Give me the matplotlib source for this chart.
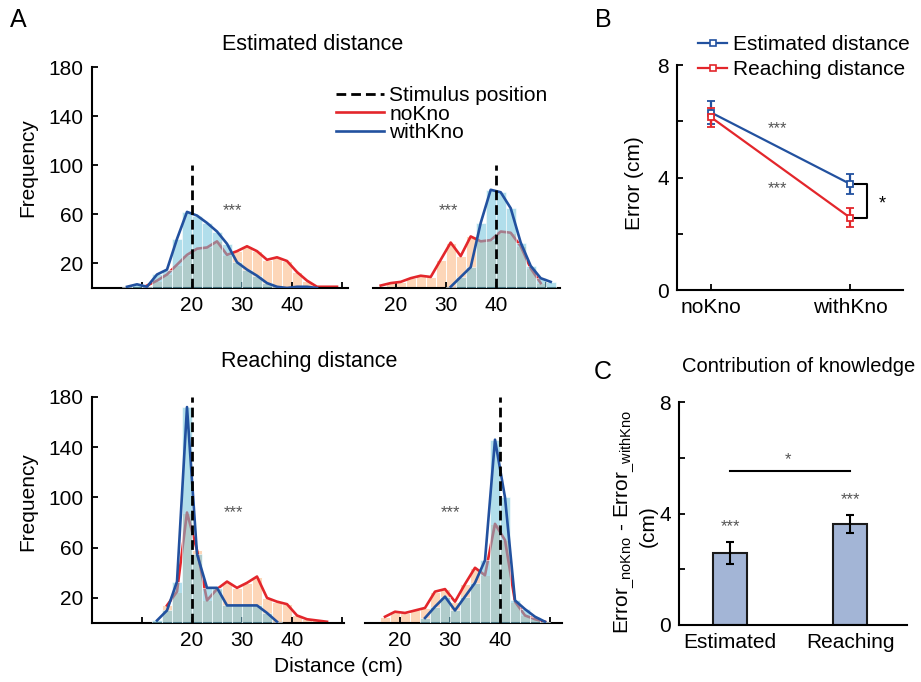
import numpy as np
import matplotlib
matplotlib.use("Agg")
import matplotlib.pyplot as plt
from matplotlib.lines import Line2D

plt.rcParams["font.family"] = ["Liberation Sans", "DejaVu Sans"]
plt.rcParams["mathtext.fontset"] = "custom"
plt.rcParams["mathtext.rm"] = "Liberation Sans"

# ---- panel A: frequency of responses per 2-cm bin (bin centres in cm)
est20_x = [7, 9, 11, 13, 15, 17, 19, 21, 23, 25, 27, 29, 31, 33, 35, 37, 39, 41, 43, 45, 47, 49]
est20_with = [1, 3, 1, 11, 15, 40, 62, 59, 53, 46, 36, 21, 15, 10, 4, 1, 0, 1, 1, 0, np.nan, np.nan]
est20_no = [np.nan, np.nan, 2, 6, 11, 19, 27, 32, 33, 38, 27, 30, 34, 30, 23, 25, 22, 13, 6, 1, 1, 1]

est40_x = [17, 19, 21, 23, 25, 27, 29, 31, 33, 35, 37, 39, 41, 43, 45, 47, 49, 51]
est40_no = [2, 4, 5, 8, 10, 9, 23, 37, 26, 42, 38, 39, 46, 45, 34, 16, 4, np.nan]
est40_with = [np.nan] * 7 + [1, 9, 17, 53, 80, 78, 65, 37, 18, 8, 5]

rea20_x = [13, 15, 17, 19, 21, 23, 25, 27, 29, 31, 33, 35, 37, 39, 41, 43, 45, 47]
rea20_with = [2, 10, 33, 172, 55, 28, 28, 14, 14, 14, 14, 8, 1] + [np.nan] * 5
rea20_no = [np.nan, 14, 25, 88, 58, 18, 27, 33, 28, 32, 37, 20, 17, 15, 6, 3, 2, 1]

rea40_x = [17, 19, 21, 23, 25, 27, 29, 31, 33, 35, 37, 39, 41, 43, 45, 47, 49]
rea40_no = [5, 9, 8, 10, 12, 25, 27, 17, 31, 44, 38, 79, 66, 17, 6, 3, 1]
rea40_with = [np.nan] * 4 + [4, 13, 21, 10, 21, 32, 50, 146, 100, 18, 11, 5, 1]

# ---- panel B: mean error (cm) with s.e.m.
conditions = ["noKno", "withKno"]
est_error = [6.31, 3.77]
est_sem = [0.40, 0.36]
reach_error = [6.14, 2.57]
reach_sem = [0.33, 0.34]

# ---- panel C: contribution of knowledge
contrib_labels = ["Estimated", "Reaching"]
contrib = [2.58, 3.62]
contrib_sem = [0.40, 0.32]

RED = "#e3262b"
BLUE = "#22519f"
ORANGE_FILL = "#fdd6b8"
BLUE_FILL = "#72c4dc"

W, H = 921, 682
fig = plt.figure(figsize=(W / 100, H / 100), dpi=100)


def box(l, t, r, b):
    return [l / W, 1 - b / H, (r - l) / W, (b - t) / H]


def ftext(x, y, s, **kw):
    fig.text(x / W, 1 - y / H, s, **kw)


def hist_panel(ax, x, no, wk, stim, xlim, vtop, left, star):
    x = np.asarray(x, float)
    no = np.asarray(no, float)
    wk = np.asarray(wk, float)
    ax.bar(x, no, width=2, color=ORANGE_FILL, edgecolor="white", linewidth=0.7, zorder=1)
    ax.plot(x, no, color=RED, lw=1.9, zorder=2)
    ax.bar(x, wk, width=2, color=BLUE_FILL, alpha=0.55, edgecolor="white",
           linewidth=0.7, zorder=3)
    ax.plot(x, wk, color=BLUE, lw=1.9, zorder=4)
    ax.vlines(stim, 0, vtop, colors="black", linestyles=(0, (3.5, 1.8)), lw=2, zorder=5)
    ax.text(star[0], star[1], "***", color="#555555", fontsize=12, ha="center", va="center")
    ax.set_xlim(*xlim)
    ax.set_ylim(0, 180)
    for s in ["top", "right"]:
        ax.spines[s].set_visible(False)
    ax.spines["bottom"].set_linewidth(1.5)
    ax.spines["left"].set_linewidth(1.5)
    ax.tick_params(direction="in", length=4, width=1.3, labelsize=15, pad=6)
    if left:
        ax.set_xticks([10, 20, 30, 40, 50], ["", "20", "30", "40", ""])
        ax.set_yticks([20, 60, 100, 140, 180])
    else:
        ax.set_xticks([20, 30, 40, 50], ["20", "30", "40", ""])
        ax.spines["left"].set_visible(False)
        ax.set_yticks([])


ax_tl = fig.add_axes(box(92, 67, 348, 288))
ax_tr = fig.add_axes(box(373, 67, 560, 288))
ax_bl = fig.add_axes(box(92, 397, 344, 623))
ax_br = fig.add_axes(box(365, 397, 562, 623))

hist_panel(ax_tl, est20_x, est20_no, est20_with, 20, (0, 51.2), 100, True, (28, 63))
hist_panel(ax_tr, est40_x, est40_no, est40_with, 40, (15.46, 52.86), 100, False, (30.5, 63))
hist_panel(ax_bl, rea20_x, rea20_no, rea20_with, 20, (0, 50.4), 180, True, (28.2, 88))
hist_panel(ax_br, rea40_x, rea40_no, rea40_with, 40, (13, 52.4), 180, False, (30, 88))

handles = [
    Line2D([], [], color="black", lw=2, linestyle=(0, (3.5, 1.8))),
    Line2D([], [], color=RED, lw=1.9),
    Line2D([], [], color=BLUE, lw=1.9),
]
fig.legend(handles, ["Stimulus position", "noKno", "withKno"], loc="upper left",
           bbox_to_anchor=(336 / W, 1 - 86 / H), frameon=False, fontsize=15,
           handlelength=2.3, handletextpad=0.25, labelspacing=-0.02,
           borderpad=0, borderaxespad=0)

ftext(313, 45, "Estimated distance", fontsize=15.5, ha="center", va="center")
ftext(309, 362, "Reaching distance", fontsize=15.5, ha="center", va="center")
ftext(28, 168, "Frequency", fontsize=15, rotation=90, ha="center", va="center")
ftext(28, 502, "Frequency", fontsize=15, rotation=90, ha="center", va="center")
ftext(338, 667, "Distance (cm)", fontsize=15, ha="center", va="center")

# ---- panel B
axB = fig.add_axes(box(677, 65, 903, 290))
xb = np.arange(1, len(conditions) + 1)
axB.errorbar(xb, est_error, yerr=est_sem, color=BLUE, lw=1.6, marker="s", ms=5,
             mfc="white", mec=BLUE, mew=1.3, capsize=3, elinewidth=1.6, zorder=3)
axB.errorbar(xb, reach_error, yerr=reach_sem, color=RED, lw=1.6, marker="s", ms=5,
             mfc="white", mec=RED, mew=1.3, capsize=3, elinewidth=1.6, zorder=3)
axB.set_xlim(0.755, 2.38)
axB.set_ylim(0, 8)
axB.set_xticks(xb, conditions)
axB.set_yticks([0, 4, 8])
axB.set_yticks([2, 6], minor=True)
for s in ["top", "right"]:
    axB.spines[s].set_visible(False)
for s in ["bottom", "left"]:
    axB.spines[s].set_linewidth(1.5)
axB.tick_params(which="both", direction="in", length=4, width=1.3, labelsize=15, pad=6)
axB.text(1.48, 5.75, "***", color="#555555", fontsize=12, ha="center", va="center")
axB.text(1.48, 3.6, "***", color="#555555", fontsize=12, ha="center", va="center")
axB.plot([2.036, 2.12, 2.12, 2.036], [est_error[1], est_error[1], reach_error[1], reach_error[1]],
         color="black", lw=1.5)
axB.text(2.23, 3.05, "*", fontsize=13, ha="center", va="center")
b_handles = [
    Line2D([], [], color=BLUE, lw=1.6, marker="s", ms=4.5, mfc="white", mec=BLUE, mew=1.2),
    Line2D([], [], color=RED, lw=1.6, marker="s", ms=4.5, mfc="white", mec=RED, mew=1.2),
]
fig.legend(b_handles, ["Estimated distance", "Reaching distance"], loc="upper left",
           bbox_to_anchor=(698 / W, 1 - 35 / H), frameon=False, fontsize=15,
           handlelength=1.4, handletextpad=0.3, labelspacing=0.3,
           borderpad=0, borderaxespad=0)
ftext(635, 183, "Error (cm)", fontsize=15, rotation=90, ha="center", va="center")

# ---- panel C
axC = fig.add_axes(box(679, 402, 907, 625))
xc = np.arange(1, len(contrib_labels) + 1)
axC.bar(xc, contrib, width=0.29, color="#a3b5d6", edgecolor="#1a1a1a", linewidth=1.5,
        yerr=contrib_sem, capsize=3, error_kw=dict(elinewidth=1.5, capthick=1.5))
axC.set_xlim(0.575, 2.475)
axC.set_ylim(0, 8)
axC.set_xticks(xc, contrib_labels)
axC.set_yticks([0, 4, 8])
axC.set_yticks([2, 6], minor=True)
for s in ["top", "right"]:
    axC.spines[s].set_visible(False)
for s in ["bottom", "left"]:
    axC.spines[s].set_linewidth(1.5)
axC.tick_params(which="both", direction="in", length=4, width=1.3, labelsize=15, pad=6)
axC.tick_params(axis="x", length=0)
for xi, v, e in zip(xc, contrib, contrib_sem):
    axC.text(xi, v + e + 0.55, "***", color="#555555", fontsize=12, ha="center", va="center")
axC.plot([1, 2], [5.52, 5.52], color="black", lw=1.5)
axC.text(1.48, 5.95, "*", color="#555555", fontsize=12, ha="center", va="center")
ftext(799, 366, "Contribution of knowledge", fontsize=14.5, ha="center", va="center")
ftext(624, 522, r"Error$\mathregular{_{\_noKno}}$ - Error$\mathregular{_{\_withKno}}$",
      fontsize=15, rotation=90, ha="center", va="center")
ftext(648, 526, "(cm)", fontsize=15, rotation=90, ha="center", va="center")

ftext(18, 20, "A", fontsize=18, ha="center", va="center")
ftext(603, 20, "B", fontsize=18, ha="center", va="center")
ftext(603, 372, "C", fontsize=18, ha="center", va="center")

fig.savefig("out.png", dpi=100)
